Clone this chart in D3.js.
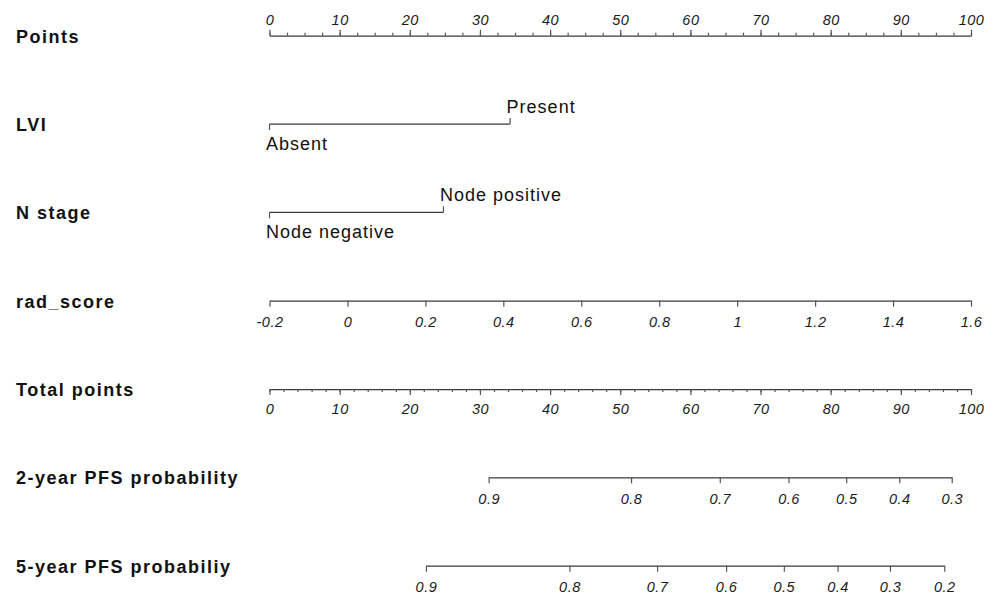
<!DOCTYPE html>
<html>
<head>
<meta charset="utf-8">
<script src="https://cdn.jsdelivr.net/npm/d3@7/dist/d3.min.js"></script>
<style>
  html, body { margin: 0; padding: 0; background: #fff; }
  svg { display: block; }
  .row-label { font-family: "Liberation Sans", Arial, sans-serif; font-weight: bold; font-size: 18px; letter-spacing: 1.5px; fill: #111; }
  .level-label { font-family: "Liberation Sans", Arial, sans-serif; font-size: 18px; letter-spacing: 1px; fill: #111; }
  .tick text { font-family: "Liberation Sans", Arial, sans-serif; font-style: italic; font-size: 14.5px; letter-spacing: 0.5px; fill: #1a1a1a; }
</style>
</head>
<body>
<svg id="chart" width="996" height="596"></svg>
<script>
// Row titles, top to bottom
const rowNames = ["Points", "LVI", "N stage", "rad_score", "Total points",
                  "2-year PFS probability", "5-year PFS probabiliy"];

// Points scale ticks
const pointTicks = [0, 10, 20, 30, 40, 50, 60, 70, 80, 90, 100];
const pointMinorStep = 2.5;
const totalMinorStep = 2;

// Categorical predictors: level names and their points
const lviLevels = ["Absent", "Present"];
const lviPoints = [0, 34.3];
const nStageLevels = ["Node negative", "Node positive"];
const nStagePoints = [0, 24.8];

// Continuous predictor: rad_score range maps onto 0..100 points
const radScoreTicks = [-0.2, 0, 0.2, 0.4, 0.6, 0.8, 1, 1.2, 1.4, 1.6];
const radScoreRange = [-0.2, 1.6];
const radScorePointRange = [0, 100];

// Survival probabilities and the total points at which they occur
const pfs2Probs  = [0.9, 0.8, 0.7, 0.6, 0.5, 0.4, 0.3];
const pfs2Points = [31.24, 51.54, 64.19, 73.99, 82.21, 89.77, 97.25];
const pfs5Probs  = [0.9, 0.8, 0.7, 0.6, 0.5, 0.4, 0.3, 0.2];
const pfs5Points = [22.30, 42.75, 55.25, 65.09, 73.32, 80.98, 88.45, 96.19];

const svg = d3.select("#chart");
const lineColor = "#3a3a3a";
const tickColor = "#555";

// Plain number labels with an ASCII hyphen for negatives
const plain = d => String(+(+d).toFixed(2));

// Shared horizontal scale in points
const x = d3.scaleLinear().domain([0, 100]).range([269.5, 971]);

// Vertical position of each row's axis line
const rowY = d3.scalePoint().domain(rowNames).range([35.7, 565.7]);

// Row titles
svg.selectAll("text.row-label")
  .data(rowNames)
  .join("text")
  .attr("class", "row-label")
  .attr("x", 16)
  .attr("y", d => rowY(d) + 7)
  .text(d => d);

function styleAxis(g) {
  g.select(".domain").attr("stroke", lineColor).attr("stroke-width", 1.3);
  g.selectAll(".tick line").attr("stroke", tickColor).attr("stroke-width", 1.2);
}

// Points axis (ticks and labels above)
const pointsG = svg.append("g").attr("transform", `translate(0,${rowY("Points")})`);
pointsG.append("g")
  .call(d3.axisTop(x).tickValues(d3.range(0, 100 + 1e-9, pointMinorStep)).tickSize(3).tickSizeOuter(0).tickFormat(""))
  .call(styleAxis);
pointsG.append("g")
  .call(d3.axisTop(x).tickValues(pointTicks).tickSize(6).tickSizeOuter(0).tickPadding(5).tickFormat(plain))
  .call(styleAxis)
  .call(g => g.select(".domain").remove());

// Categorical rows: line from first to last level, alternating tick/label sides
function categoricalRow(name, levels, pts) {
  const y0 = rowY(name);
  const g = svg.append("g").attr("transform", `translate(0,${y0})`);
  g.append("line")
    .attr("x1", x(d3.min(pts))).attr("x2", x(d3.max(pts)))
    .attr("y1", 0).attr("y2", 0)
    .attr("stroke", lineColor).attr("stroke-width", 1.3);
  const items = levels.map((l, i) => ({ level: l, p: pts[i], up: i % 2 === 1 }));
  g.selectAll("line.tk")
    .data(items)
    .join("line")
    .attr("class", "tk")
    .attr("x1", d => x(d.p)).attr("x2", d => x(d.p))
    .attr("y1", 0).attr("y2", d => d.up ? -6 : 6)
    .attr("stroke", tickColor).attr("stroke-width", 1.2);
  g.selectAll("text.level-label")
    .data(items)
    .join("text")
    .attr("class", "level-label")
    .attr("x", d => x(d.p) - 3.5)
    .attr("y", d => d.up ? -11 : 25.5)
    .text(d => d.level);
}
categoricalRow("LVI", lviLevels, lviPoints);
categoricalRow("N stage", nStageLevels, nStagePoints);

// rad_score axis
const radX = d3.scaleLinear().domain(radScoreRange).range(radScorePointRange.map(x));
svg.append("g")
  .attr("transform", `translate(0,${rowY("rad_score")})`)
  .call(d3.axisBottom(radX).tickValues(radScoreTicks).tickSize(6).tickSizeOuter(0).tickPadding(10)
        .tickFormat(plain))
  .call(styleAxis);

// Total points axis
const totalG = svg.append("g").attr("transform", `translate(0,${rowY("Total points")})`);
totalG.append("g")
  .call(d3.axisBottom(x).tickValues(d3.range(0, 100 + 1e-9, totalMinorStep)).tickSize(3).tickSizeOuter(0).tickFormat(""))
  .call(styleAxis);
totalG.append("g")
  .call(d3.axisBottom(x).tickValues(pointTicks).tickSize(6).tickSizeOuter(0).tickPadding(9).tickFormat(plain))
  .call(styleAxis)
  .call(g => g.select(".domain").remove());

// Probability axes: probability -> total points -> pixel
function probRow(name, probs, pts) {
  const s = d3.scaleLinear().domain(probs).range(pts.map(x));
  svg.append("g")
    .attr("transform", `translate(0,${rowY(name)})`)
    .call(d3.axisBottom(s).tickValues(probs).tickSize(6).tickSizeOuter(0).tickPadding(10).tickFormat(d3.format(".1f")))
    .call(styleAxis);
}
probRow("2-year PFS probability", pfs2Probs, pfs2Points);
probRow("5-year PFS probabiliy", pfs5Probs, pfs5Points);
</script>
</body>
</html>
